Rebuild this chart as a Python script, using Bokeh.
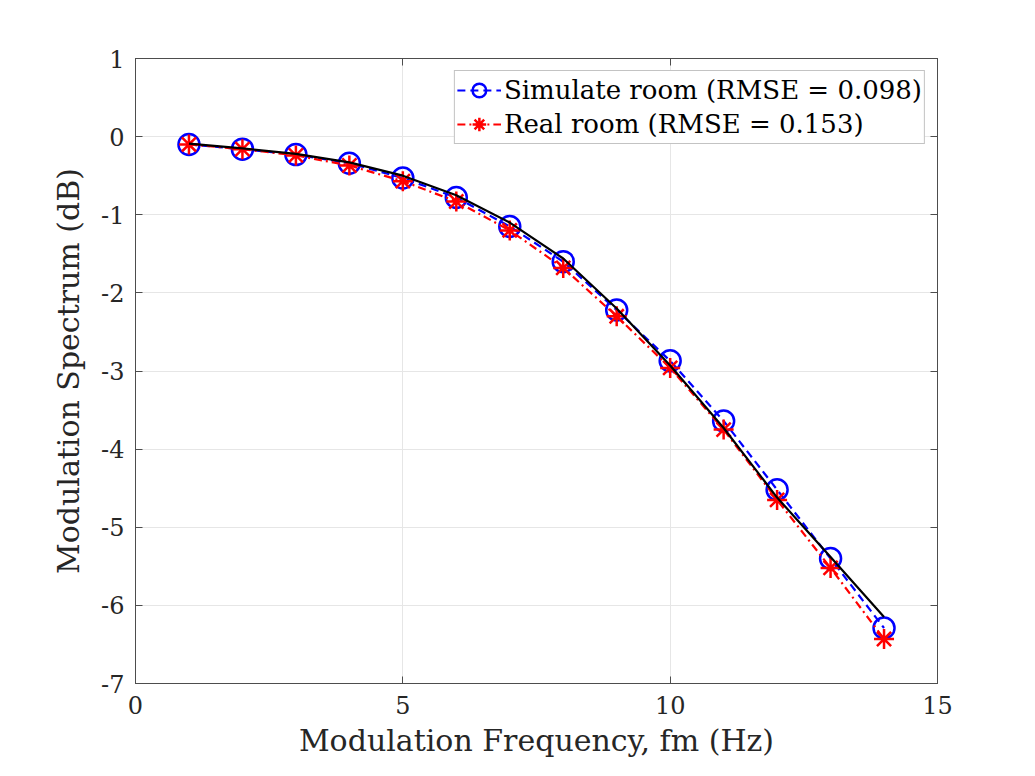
from bokeh.plotting import figure
from bokeh.models import Range1d, LinearAxis, FixedTicker, Legend, LegendItem
from bokeh.embed import file_html
from bokeh.resources import INLINE

freq = [1, 2, 3, 4, 5, 6, 7, 8, 9, 10, 11, 12, 13, 14]
reference = [-0.09, -0.15, -0.22, -0.33, -0.50, -0.75, -1.10, -1.56, -2.20, -2.93, -3.73, -4.62, -5.38, -6.15]
simulate = [-0.10, -0.16, -0.23, -0.34, -0.53, -0.78, -1.15, -1.60, -2.22, -2.87, -3.64, -4.52, -5.40, -6.29]
real = [-0.10, -0.16, -0.24, -0.37, -0.57, -0.83, -1.20, -1.68, -2.30, -2.96, -3.75, -4.65, -5.52, -6.43]
x_ticks = [0, 5, 10, 15]
y_ticks = [-7, -6, -5, -4, -3, -2, -1, 0, 1]
sim_label = "Simulate room (RMSE = 0.098)"
real_label = "Real room (RMSE = 0.153)"

FONT = "DejaVu Serif"
AX = "#4d4d4d"

p = figure(width=1019, height=760, output_backend="svg", toolbar_location=None,
           x_range=Range1d(0, 15), y_range=Range1d(-7, 1),
           min_border_left=135, min_border_right=82, min_border_top=58, min_border_bottom=76)
p.outline_line_color = AX
p.outline_line_width = 1
p.background_fill_color = "white"
p.border_fill_color = "white"

for ax in (p.xaxis[0], p.yaxis[0]):
    ax.major_tick_in = 7
    ax.major_tick_out = 0
    ax.minor_tick_line_color = None
    ax.axis_line_color = AX
    ax.major_tick_line_color = AX
    ax.major_label_text_font = FONT
    ax.major_label_text_font_size = "24px"
    ax.major_label_text_color = "#262626"
    ax.axis_label_text_font = FONT
    ax.axis_label_text_font_size = "30px"
    ax.axis_label_text_font_style = "normal"
    ax.axis_label_text_color = "#262626"
p.xaxis[0].ticker = FixedTicker(ticks=x_ticks)
p.yaxis[0].ticker = FixedTicker(ticks=y_ticks)
p.yaxis[0].major_label_overrides = {t: str(t) for t in y_ticks}
p.xaxis[0].axis_label = "Modulation Frequency, fm (Hz)"
p.yaxis[0].axis_label = "Modulation Spectrum (dB)"
p.xaxis[0].major_label_standoff = 12
p.yaxis[0].major_label_standoff = 11
p.xaxis[0].axis_label_standoff = 6
p.yaxis[0].axis_label_standoff = 12

for loc, tk in (("above", x_ticks), ("right", y_ticks)):
    a = LinearAxis(ticker=FixedTicker(ticks=tk), major_label_text_color=None,
                   major_tick_in=7, major_tick_out=0, minor_tick_line_color=None,
                   axis_line_color=AX, major_tick_line_color=AX, major_label_standoff=0)
    p.add_layout(a, loc)

p.xgrid.ticker = FixedTicker(ticks=x_ticks)
p.ygrid.ticker = FixedTicker(ticks=y_ticks)
p.grid.grid_line_color = "#e6e6e6"
p.grid.grid_line_width = 1

r_sim_l = p.line(freq, simulate, line_color="blue", line_width=2.2, line_dash="8 5")
r_sim_m = p.scatter(freq, simulate, marker="circle", size=21, fill_color=None,
                    line_color="blue", line_width=2.5)
r_real_l = p.line(freq, real, line_color="red", line_width=2.2, line_dash="8 4 2 4")
r_real_m = p.scatter(freq, real, marker="asterisk", size=20, line_color="red", line_width=2.5)
r_ref = p.line(freq, reference, line_color="black", line_width=2.2)

legend = Legend(items=[LegendItem(label=sim_label, renderers=[r_sim_l, r_sim_m]),
                       LegendItem(label=real_label, renderers=[r_real_l, r_real_m])],
                location="top_right")
legend.label_text_font = FONT
legend.label_text_font_size = "26px"
legend.label_text_color = "black"
legend.glyph_width = 44
legend.glyph_height = 34
legend.label_standoff = 3
legend.spacing = 0
legend.padding = 2
legend.margin = 12
legend.border_line_color = "#888888"
legend.border_line_width = 1
legend.background_fill_alpha = 1
p.add_layout(legend, "center")

open("out.html", "w").write(file_html(p, INLINE))
